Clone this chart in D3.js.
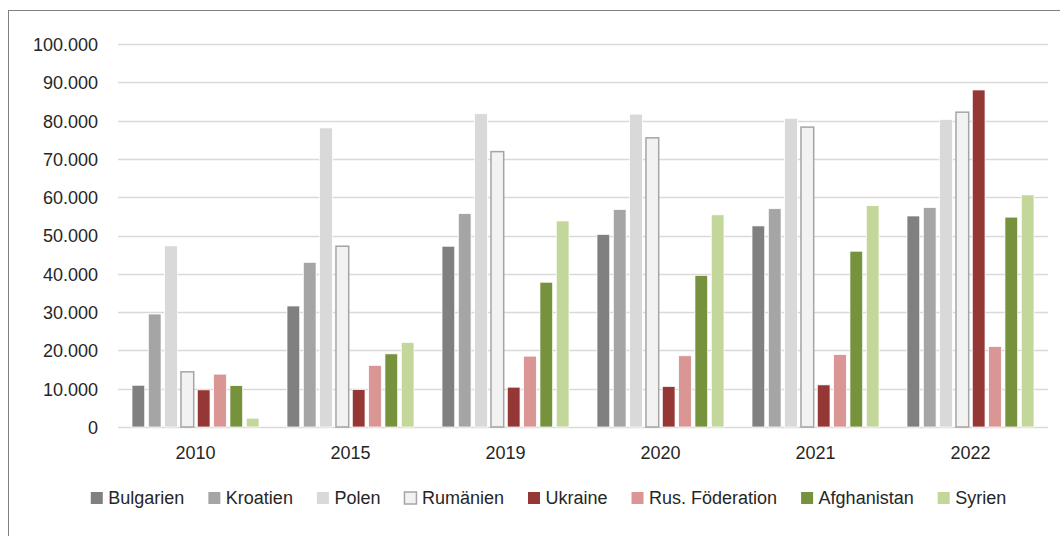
<!DOCTYPE html>
<html><head><meta charset="utf-8">
<script src="https://cdn.jsdelivr.net/npm/d3@7"></script>
<style>body{margin:0;background:#fff}svg{display:block}text{font-family:"Liberation Sans",Arial,sans-serif;fill:#262626}</style>
</head><body><svg id="c" width="1060" height="536"></svg>
<script>
const years = ["2010","2015","2019","2020","2021","2022"];
const series = ["Bulgarien","Kroatien","Polen","Rumänien","Ukraine","Rus. Föderation","Afghanistan","Syrien"];
const bulgarien   = [10900, 31600, 47200, 50300, 52500, 55100];
const kroatien    = [29500, 43000, 55700, 56800, 57000, 57300];
const polen       = [47300, 78100, 81800, 81700, 80600, 80300];
const rumaenien   = [14400, 47200, 71900, 75500, 78300, 82200];
const ukraine     = [9700, 9800, 10400, 10600, 11000, 88000];
const rusFoed     = [13800, 16100, 18500, 18600, 18900, 21000];
const afghanistan = [10800, 19100, 37800, 39600, 45900, 54800];
const syrien      = [2300, 22100, 53800, 55400, 57800, 60600];
const yTicks = [0,10000,20000,30000,40000,50000,60000,70000,80000,90000,100000];
const values = [bulgarien,kroatien,polen,rumaenien,ukraine,rusFoed,afghanistan,syrien];
const colors = ["#808080","#a5a5a5","#d9d9d9","#f2f2f2","#953735","#da9694","#76923c","#c4d79b"];

const svg = d3.select("#c");
// dotted outer border
svg.append("rect").attr("x",8.5).attr("y",10.5).attr("width",1100).attr("height",600)
  .attr("fill","none").attr("stroke","#000").attr("stroke-width",1).attr("stroke-dasharray","1,1");

const L=118,R=1048,T=44,B=427;
const x0 = d3.scaleBand().domain(years).range([L,R]).padding(0);
const x1 = d3.scaleBand().domain(series).range([14, x0.bandwidth()-14]).paddingInner(0.22).paddingOuter(0);
const y = d3.scaleLinear().domain([0,100000]).range([B,T]);
const fmt = d => d3.format(",")(d).replace(/,/g,".");

// grid
svg.append("g").selectAll("line").data(yTicks).join("line")
  .attr("x1",L).attr("x2",R).attr("y1",d=>Math.round(y(d))+0.5).attr("y2",d=>Math.round(y(d))+0.5)
  .attr("stroke","#d9d9d9").attr("stroke-width",1.3);

// y labels
const ya = svg.append("g").attr("transform",`translate(98,0)`)
  .call(d3.axisLeft(y).tickValues(yTicks).tickFormat(fmt).tickSize(0).tickPadding(0));
ya.select(".domain").remove();
ya.selectAll("text").attr("font-size",18).attr("font-family","Liberation Sans, Arial, sans-serif").attr("fill","#262626").attr("dy","0.36em");

// x labels
const xa = svg.append("g").attr("transform",`translate(0,${B})`)
  .call(d3.axisBottom(x0).tickSize(0).tickPadding(0));
xa.select(".domain").remove();
xa.selectAll("text").attr("font-size",18).attr("font-family","Liberation Sans, Arial, sans-serif").attr("fill","#262626").attr("dy","0").attr("y",32);

// bars
const g = svg.append("g");
years.forEach((yr,i)=>{
  const gg = g.append("g").attr("transform",`translate(${x0(yr)},0)`);
  gg.selectAll("rect").data(series.map((s,j)=>({s,j,v:values[j][i]}))).join("rect")
    .attr("x",d=>x1(d.s)).attr("width",x1.bandwidth())
    .attr("y",d=>y(d.v)).attr("height",d=>B-y(d.v))
    .attr("fill",d=>colors[d.j])
    .attr("stroke",d=>d.j===3?"#a5a5a5":"#fff")
    .attr("stroke-width",d=>d.j===3?1.5:0.75);
});

// legend
const lg = svg.append("g");
const items = lg.selectAll("g").data(series).join("g");
items.append("rect").attr("width",12).attr("height",12).attr("y",492)
  .attr("fill",(d,i)=>colors[i]).attr("stroke",(d,i)=>i===3?"#a5a5a5":"none").attr("stroke-width",1.5);
items.append("text").attr("x",17.5).attr("y",504).attr("font-size",18).text(d=>d);
let xpos=0;
items.each(function(){
  const w = d3.select(this).select("text").node().getComputedTextLength();
  d3.select(this).attr("transform",`translate(${xpos},0)`);
  this._w = 17.5+w;
  xpos += 17.5+w+24;
});
const total = xpos-24;
lg.attr("transform",`translate(${548.5-total/2},0)`);
</script></body></html>
